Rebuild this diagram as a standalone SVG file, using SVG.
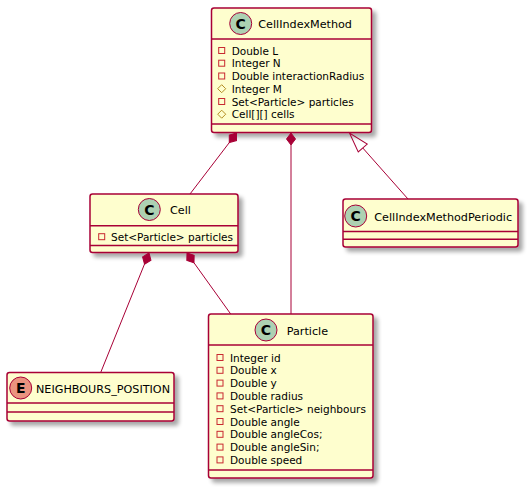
<svg xmlns="http://www.w3.org/2000/svg" width="531" height="491" viewBox="0 0 531 491">
  <defs>
    <filter id="shadow" x="-10%" y="-10%" width="130%" height="130%">
      <feGaussianBlur in="SourceAlpha" stdDeviation="2"/>
      <feOffset dx="4" dy="4" result="off"/>
      <feComponentTransfer><feFuncA type="linear" slope="0.35"/></feComponentTransfer>
      <feMerge><feMergeNode/><feMergeNode in="SourceGraphic"/></feMerge>
    </filter>
    <polygon id="diamond" points="0,0 -4.5,6 0,12 4.5,6" fill="#A80036" stroke="#A80036" stroke-width="1"/>
    <polygon id="triangle" points="0,0 -6,20 6,20" fill="none" stroke="#A80036" stroke-width="1"/>
    <rect id="priv" x="-3" y="-3" width="6" height="6" fill="none" stroke="#C82930" stroke-width="1"/>
    <polygon id="prot" points="0,-4 4,0 0,4 -4,0" fill="none" stroke="#B38D22" stroke-width="1"/>
  </defs>
  <style>
    .box { fill: #FEFECE; stroke: #A80036; stroke-width: 1.5; }
    .sep { stroke: #A80036; stroke-width: 1.5; }
    .circC { fill: #ADD1B2; stroke: #A80036; stroke-width: 1; }
    .circE { fill: #EB937F; stroke: #A80036; stroke-width: 1; }
    .glyph { font-family: "DejaVu Sans", sans-serif; font-size: 14px; font-weight: bold; fill: #000000; text-anchor: middle; }
    .name { font-family: "DejaVu Sans", sans-serif; font-size: 11.2px; fill: #000000; }
    .attr { font-family: "DejaVu Sans", sans-serif; font-size: 10.5px; fill: #000000; }
    .edge { stroke: #A80036; stroke-width: 1; fill: none; }
  </style>
  <rect width="531" height="491" fill="#FFFFFF"/>

  <!-- class CellIndexMethod -->
  <g id="CellIndexMethod">
    <rect class="box" x="211.5" y="8" width="160" height="124.5" rx="2.5" filter="url(#shadow)"/>
    <circle class="circC" cx="240.7" cy="23.5" r="11"/>
    <text class="glyph" x="240.7" y="28.5">C</text>
    <text class="name" x="258.3" y="27.5">CellIndexMethod</text>
    <line class="sep" x1="211.5" y1="39" x2="371.5" y2="39"/>
    <use href="#priv" x="221.7" y="50.5"/>
    <text class="attr" x="231.7" y="54.5">Double L</text>
    <use href="#priv" x="221.7" y="63.2"/>
    <text class="attr" x="231.7" y="67.2">Integer N</text>
    <use href="#priv" x="221.7" y="76"/>
    <text class="attr" x="231.7" y="80">Double interactionRadius</text>
    <use href="#prot" x="221.7" y="88.7"/>
    <text class="attr" x="231.7" y="92.7">Integer M</text>
    <use href="#priv" x="221.7" y="101.5"/>
    <text class="attr" x="231.7" y="105.5">Set&lt;Particle&gt; particles</text>
    <use href="#prot" x="221.7" y="114.2"/>
    <text class="attr" x="231.7" y="118.2">Cell[][] cells</text>
    <line class="sep" x1="211.5" y1="124" x2="371.5" y2="124"/>
  </g>

  <!-- class Cell -->
  <g id="Cell">
    <rect class="box" x="90" y="194" width="148" height="58.5" rx="2.5" filter="url(#shadow)"/>
    <circle class="circC" cx="149.3" cy="209.5" r="11"/>
    <text class="glyph" x="149.3" y="214.5">C</text>
    <text class="name" x="170" y="213.5">Cell</text>
    <line class="sep" x1="90" y1="225.7" x2="238" y2="225.7"/>
    <use href="#priv" x="101.7" y="236.7"/>
    <text class="attr" x="111" y="240.7">Set&lt;Particle&gt; particles</text>
    <line class="sep" x1="90" y1="245.5" x2="238" y2="245.5"/>
  </g>

  <!-- class CellIndexMethodPeriodic -->
  <g id="CellIndexMethodPeriodic">
    <rect class="box" x="343" y="199" width="175" height="48" rx="2.5" filter="url(#shadow)"/>
    <circle class="circC" cx="355.7" cy="216" r="11"/>
    <text class="glyph" x="355.7" y="221">C</text>
    <text class="name" x="374.3" y="220.5">CellIndexMethodPeriodic</text>
    <line class="sep" x1="343" y1="231.5" x2="518" y2="231.5"/>
    <line class="sep" x1="343" y1="239.2" x2="518" y2="239.2"/>
  </g>

  <!-- class Particle -->
  <g id="Particle">
    <rect class="box" x="208.5" y="314" width="164.5" height="164" rx="2.5" filter="url(#shadow)"/>
    <circle class="circC" cx="266" cy="330" r="11"/>
    <text class="glyph" x="266" y="335">C</text>
    <text class="name" x="286.7" y="334.5">Particle</text>
    <line class="sep" x1="208.5" y1="345" x2="373" y2="345"/>
    <use href="#priv" x="220" y="357.5"/>
    <text class="attr" x="230" y="361.5">Integer id</text>
    <use href="#priv" x="220" y="370.3"/>
    <text class="attr" x="230" y="374.3">Double x</text>
    <use href="#priv" x="220" y="383.1"/>
    <text class="attr" x="230" y="387.1">Double y</text>
    <use href="#priv" x="220" y="395.9"/>
    <text class="attr" x="230" y="399.9">Double radius</text>
    <use href="#priv" x="220" y="408.7"/>
    <text class="attr" x="230" y="412.7">Set&lt;Particle&gt; neighbours</text>
    <use href="#priv" x="220" y="421.5"/>
    <text class="attr" x="230" y="425.5">Double angle</text>
    <use href="#priv" x="220" y="434.3"/>
    <text class="attr" x="230" y="438.3">Double angleCos;</text>
    <use href="#priv" x="220" y="447.1"/>
    <text class="attr" x="230" y="451.1">Double angleSin;</text>
    <use href="#priv" x="220" y="459.9"/>
    <text class="attr" x="230" y="463.9">Double speed</text>
    <line class="sep" x1="208.5" y1="470" x2="373" y2="470"/>
  </g>

  <!-- enum NEIGHBOURS_POSITION -->
  <g id="NEIGHBOURS_POSITION">
    <rect class="box" x="7" y="372.5" width="167" height="48.5" rx="2.5" filter="url(#shadow)"/>
    <circle class="circE" cx="20.7" cy="388" r="11"/>
    <text class="glyph" x="20.7" y="393">E</text>
    <text class="name" x="36" y="392.5">NEIGHBOURS_POSITION</text>
    <line class="sep" x1="7" y1="403" x2="174" y2="403"/>
    <line class="sep" x1="7" y1="412" x2="174" y2="412"/>
  </g>

  <!-- relations -->
  <g id="connectors">
    <!-- composition: CellIndexMethod owns Cell -->
    <use href="#diamond" transform="translate(236.5,133) rotate(37)"/>
    <line class="edge" x1="229.3" y1="142.6" x2="190" y2="194"/>
    <!-- composition: CellIndexMethod owns Particle -->
    <use href="#diamond" transform="translate(291,133)"/>
    <line class="edge" x1="291" y1="145" x2="291" y2="314"/>
    <!-- inheritance: CellIndexMethodPeriodic extends CellIndexMethod -->
    <use href="#triangle" transform="translate(349.5,133) rotate(-41.5)"/>
    <line class="edge" x1="362.8" y1="148" x2="408" y2="199"/>
    <!-- composition: Cell owns NEIGHBOURS_POSITION -->
    <use href="#diamond" transform="translate(149,253) rotate(21.8)"/>
    <line class="edge" x1="144.5" y1="264.1" x2="100.7" y2="372.5"/>
    <!-- composition: Cell owns Particle -->
    <use href="#diamond" transform="translate(187,253) rotate(-35.6)"/>
    <line class="edge" x1="194" y1="262.8" x2="230.7" y2="314"/>
  </g>
</svg>
